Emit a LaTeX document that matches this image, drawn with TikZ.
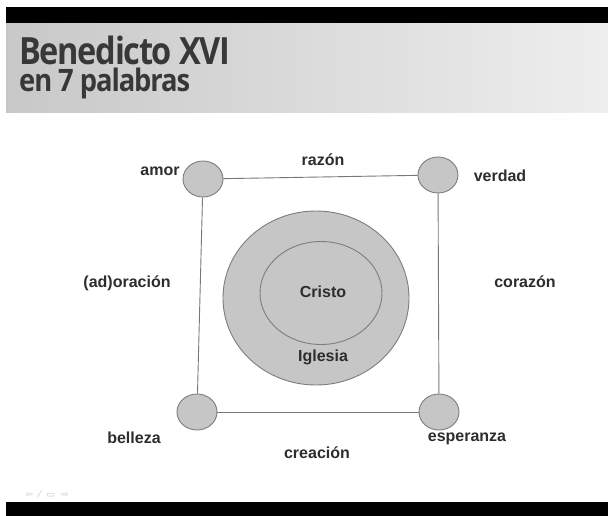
\documentclass[tikz,border=0pt]{standalone}
\usepackage{fontspec}
\setmainfont{Liberation Sans}
\newfontfamily\titlefont[LetterSpace=-4]{Open Sans}
\newfontfamily\symfont{DejaVu Sans}
\usetikzlibrary{shapes.geometric}
\definecolor{circfill}{RGB}{198,198,198}
\definecolor{circline}{RGB}{125,125,125}
\definecolor{edgeline}{RGB}{120,120,120}
\definecolor{bandL}{RGB}{200,200,200}
\definecolor{bandR}{RGB}{238,238,238}
\definecolor{txt}{RGB}{45,45,45}
\tikzset{
  word/.style={font=\bfseries\fontsize{16}{18}\selectfont, text=txt, inner sep=0pt},
  dot/.style={ellipse, draw=circline, fill=circfill, line width=0.9pt, minimum width=40pt, minimum height=36pt, inner sep=0pt},
  edge/.style={draw=edgeline, line width=0.9pt},
  ring/.style={ellipse, draw=circline, fill=circfill, line width=0.9pt, inner sep=0pt}
}
\begin{document}
\begin{tikzpicture}[x=1pt,y=-1pt]
\useasboundingbox (0,0) rectangle (608,516);
\fill[white] (0,0) rectangle (608,516);
% header
\fill[black] (6,7) rectangle (608,23.5);
\shade[left color=bandL, right color=bandR] (6,23.5) rectangle (608,113);
\node[anchor=base west, inner sep=0pt, text=black!78] (t1) at (19,65) {\resizebox{211pt}{28.5pt}{\titlefont\bfseries Benedicto XVI}};
\node[anchor=base west, inner sep=0pt, text=black!78] (t2) at (19,92) {\resizebox{171pt}{23.5pt}{\titlefont\bfseries en 7 palabras}};
% footer
\fill[black] (6,502) rectangle (608,516);
\node[inner sep=0pt, text=black!22, font=\symfont\fontsize{9}{10}\selectfont] (nav) at (47,494) {⇦\hspace{6pt}⁄\hspace{6pt}▭\hspace{6pt}⇨};
% big rings
\node[ring, minimum width=186pt, minimum height=174pt] (outer) at (316,298) {};
\node[ring, minimum width=122pt, minimum height=103pt] (inner) at (321,293) {};
\node[word] (cristo) at (323,292) {Cristo};
\node[word] (iglesia) at (323,357) {Iglesia};
% corner circles
\node[dot] (amor) at (203,179) {};
\node[dot] (verdad) at (438,175) {};
\node[dot] (belleza) at (197,412) {};
\node[dot] (esperanza) at (439,412) {};
\draw[edge] (amor) -- (verdad);
\draw[edge] (amor) -- (belleza);
\draw[edge] (verdad) -- (esperanza);
\draw[edge] (belleza) -- (esperanza);
% labels
\node[word] (lamor) at (160,171) {amor};
\node[word] (lrazon) at (323,160) {razón};
\node[word] (lverdad) at (500,176) {verdad};
\node[word] (ladoracion) at (127,283) {(ad)oración};
\node[word] (lcorazon) at (525,282) {corazón};
\node[word] (lbelleza) at (134,438) {belleza};
\node[word] (lcreacion) at (317,453) {creación};
\node[word] (lesperanza) at (467,439) {esperanza};
\end{tikzpicture}
\end{document}
